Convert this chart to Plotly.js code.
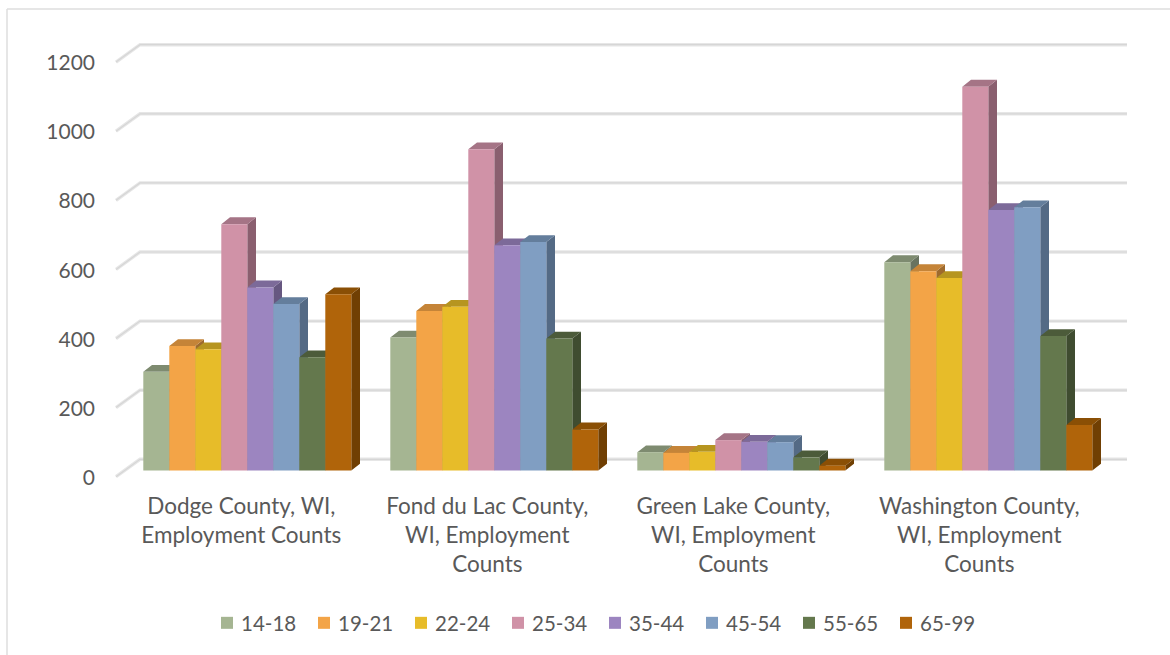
<!DOCTYPE html>
<html>
<head>
<meta charset="utf-8">
<script src="https://cdn.plot.ly/plotly-3.0.1.min.js"></script>
<style>html,body{margin:0;padding:0;background:#fff}#chart{width:1170px;height:655px}</style>
</head>
<body>
<div id="chart"></div>
<script>
const categories = ["Dodge County, WI, Employment Counts","Fond du Lac County, WI, Employment Counts","Green Lake County, WI, Employment Counts","Washington County, WI, Employment Counts"];
const tickLabels = ["Dodge County, WI,<br>Employment Counts","Fond du Lac County,<br>WI, Employment<br>Counts","Green Lake County,<br>WI, Employment<br>Counts","Washington County,<br>WI, Employment<br>Counts"];
const seriesNames = ["14-18","19-21","22-24","25-34","35-44","45-54","55-65","65-99"];
const age14_18 = [286,385,53,603];
const age19_21 = [360,462,51,577];
const age22_24 = [351,474,54,557];
const age25_34 = [713,930,88,1111];
const age35_44 = [530,652,83,754];
const age45_54 = [482,661,82,762];
const age55_65 = [328,382,38,389];
const age65_99 = [510,119,14,132];
const seriesValues = [age14_18,age19_21,age22_24,age25_34,age35_44,age45_54,age55_65,age65_99];
const yTicks = [0,200,400,600,800,1000,1200];

const frontColors = ["#A5B592","#F3A447","#E7BC29","#D092A7","#9C85C0","#809EC2","#64784D","#B0640A"];
const topColors   = ["#7E8B70","#C58438","#B69520","#A57486","#7C6A99","#647E9C","#4C5B3A","#8A4F05"];
const sideColors  = ["#687360","#9E6A2D","#94791A","#8A5F6F","#665780","#546A85","#3F4C30","#703F03"];

// Layout frame, in pixels
const W=1170,H=655,plotL=100,plotR=1140,plotT=20,plotB=490;
const pxPerCat=247, cat0Px=247.3, floorPx=470.5, pxPerUnit=0.3455;
const xRange=[(plotL-cat0Px)/pxPerCat,(plotR-cat0Px)/pxPerCat];
const yRange=[(floorPx-plotB)/pxPerUnit,(floorPx-plotT)/pxPerUnit];
const barW=26/pxPerCat, groupW=barW*seriesNames.length;
// 3-D depth, as pixel offsets converted to axis units
const dxBar=8.7/pxPerCat, dyBar=6.8/pxPerUnit;
const xWallFront=(116-cat0Px)/pxPerCat, xWallBack=(140-cat0Px)/pxPerCat, xWallEnd=(1127-cat0Px)/pxPerCat;
const yWallFront=-6.2/pxPerUnit, yWallBack=11.2/pxPerUnit;
const labelStep=246/pxPerCat;

function gridTrace(color,width){
  const xs=[],ys=[];
  yTicks.forEach(v=>{
    xs.push(xWallFront,xWallBack,xWallEnd,null);
    ys.push(v+yWallFront,v+yWallBack,v+yWallBack,null);
  });
  return {type:"scatter",mode:"lines",x:xs,y:ys,line:{color,width},showlegend:false,hoverinfo:"skip",xaxis:"x",yaxis:"y"};
}
const traces=[gridTrace("#E6E6E6",3.4),gridTrace("#D6D6D6",1.2)];

function poly(fn){
  const xs=[],ys=[];
  fn(xs,ys);
  return {xs,ys};
}
seriesNames.forEach((name,s)=>{
  const vals=seriesValues[s];
  const side=poly((xs,ys)=>vals.forEach((v,c)=>{
    const x1=c-groupW/2+(s+1)*barW;
    xs.push(x1,x1+dxBar,x1+dxBar,x1,x1,null);
    ys.push(0,dyBar,v+dyBar,v,0,null);
  }));
  const top=poly((xs,ys)=>vals.forEach((v,c)=>{
    const x0=c-groupW/2+s*barW, x1=x0+barW;
    xs.push(x0,x0+dxBar,x1+dxBar,x1,x0,null);
    ys.push(v,v+dyBar,v+dyBar,v,v,null);
  }));
  traces.push({type:"scatter",mode:"lines",x:side.xs,y:side.ys,fill:"toself",fillcolor:sideColors[s],line:{width:0,color:sideColors[s]},showlegend:false,hoverinfo:"skip",xaxis:"x",yaxis:"y"});
  traces.push({type:"scatter",mode:"lines",x:top.xs,y:top.ys,fill:"toself",fillcolor:topColors[s],line:{width:0,color:topColors[s]},showlegend:false,hoverinfo:"skip",xaxis:"x",yaxis:"y"});
});
seriesNames.forEach((name,s)=>{
  traces.push({type:"bar",name,x:[0,1,2,3],y:seriesValues[s],text:categories,hoverinfo:"text+y+name",textposition:"none",marker:{color:frontColors[s],line:{width:0}},xaxis:"x2",yaxis:"y2"});
});

const textColor="#595959", fontFam="Lato, 'Open Sans', sans-serif";
const pw=plotR-plotL,ph=plotB-plotT;
const layout={
  width:W,height:H,
  margin:{l:plotL,r:W-plotR,t:plotT,b:H-plotB,autoexpand:false},
  paper_bgcolor:"#fff",plot_bgcolor:"rgba(0,0,0,0)",
  barmode:"group",bargap:1-groupW,bargroupgap:0,
  showlegend:true,
  legend:{orientation:"h",x:(207-plotL)/pw,xanchor:"left",y:(plotB-603)/ph,yanchor:"top",entrywidth:52,entrywidthmode:"pixels",traceorder:"normal",font:{family:fontFam,size:20.5,color:textColor},bgcolor:"rgba(0,0,0,0)",itemsizing:"constant"},
  xaxis:{range:xRange,tickmode:"array",tickvals:tickLabels.map((t,i)=>i*labelStep),ticktext:tickLabels,ticks:"",showgrid:false,zeroline:false,showline:false,ticklabelshift:-6,ticklabelstandoff:0,automargin:false,tickangle:0,tickfont:{family:fontFam,size:22.5,color:textColor},fixedrange:true},
  yaxis:{range:yRange,tickmode:"array",tickvals:yTicks,ticktext:yTicks.map(String),ticks:"",showgrid:false,zeroline:false,showline:false,ticklabelshift:7,ticklabelstandoff:4,automargin:false,tickfont:{family:fontFam,size:21,color:textColor},fixedrange:true},
  xaxis2:{overlaying:"x",range:xRange,visible:false,fixedrange:true},
  yaxis2:{overlaying:"y",range:yRange,visible:false,fixedrange:true},
  shapes:[
    {type:"line",xref:"paper",yref:"paper",x0:(7-plotL)/pw,x1:(1175-plotL)/pw,y0:(plotB-9)/ph,y1:(plotB-9)/ph,line:{color:"#DEDEDE",width:1.5},layer:"below"},
    {type:"line",xref:"paper",yref:"paper",x0:(7-plotL)/pw,x1:(7-plotL)/pw,y0:(plotB-9)/ph,y1:(plotB-655)/ph,line:{color:"#DEDEDE",width:1.5},layer:"below"}
  ]
};

Plotly.newPlot("chart",traces,layout,{displayModeBar:false,responsive:false}).then(gd=>{
  gd.querySelectorAll(".legendtext").forEach(t=>t.setAttribute("x",Number(t.getAttribute("x"))-6));
});
</script>
</body>
</html>
